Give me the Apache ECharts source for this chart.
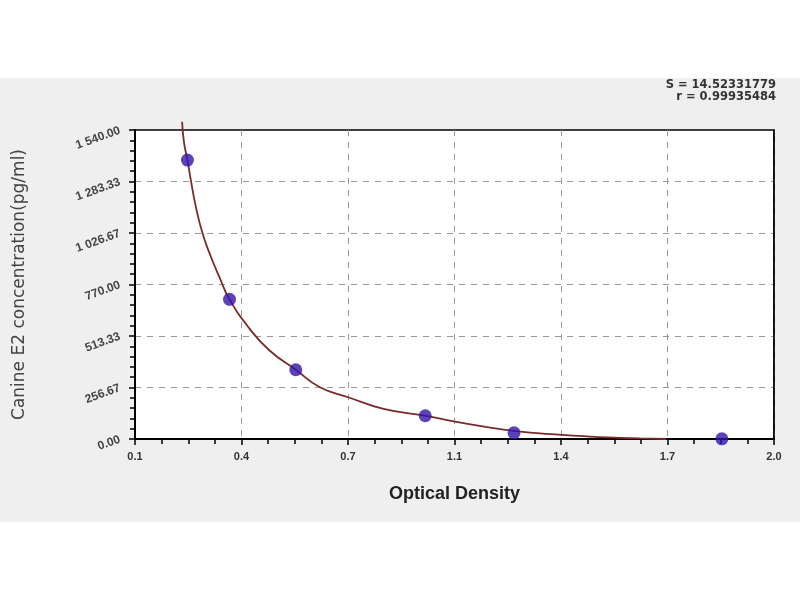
<!DOCTYPE html>
<html>
<head>
<meta charset="utf-8">
<script src="https://cdn.jsdelivr.net/npm/echarts@6/dist/echarts.min.js"></script>
<style>
  html, body { margin: 0; padding: 0; background: #ffffff; }
  #main { position: absolute; left: 0; top: 78px; width: 800px; height: 444px; }
</style>
</head>
<body>
<div id="main"></div>
<script>
// standards (measured points)
const pointOD = [0.256, 0.381, 0.578, 0.963, 1.227, 1.845]
const pointConc = [1390, 696, 345, 116, 31, 1]

// fitted curve
const curveOD = [0.240, 0.246, 0.256, 0.266, 0.281, 0.301, 0.326, 0.351, 0.381, 0.441, 0.500, 0.578, 0.650, 0.734, 0.839, 0.963, 1.048, 1.138, 1.227, 1.337, 1.435, 1.506, 1.600, 1.680]
const curveConc = [1581, 1474, 1390, 1290, 1157, 1024, 907, 807, 696, 549, 441, 345, 258, 208, 150, 116, 88, 62, 40, 24, 14, 8, 3, 0]

const xTickLabels = ['0.1', '0.4', '0.7', '1.1', '1.4', '1.7', '2.0']
const xMin = 0.1, xMax = 2.0
const yMax = 1540

const fitStats = ['S = 14.52331779', 'r = 0.99935484']

function fmtConc(v) {
  let s = v.toFixed(2)
  let [i, d] = s.split('.')
  i = i.replace(/\B(?=(\d{3})+(?!\d))/g, ' ')
  return i + '.' + d
}

const xStep = (xMax - xMin) / 6

var chart = echarts.init(document.getElementById('main'))

let option = {
  backgroundColor: '#efefef',
  animation: false,
  textStyle: { fontFamily: 'Arial, Liberation Sans, sans-serif' },
  grid: {
    left: 135, top: 52, width: 639, height: 309,
    show: true, backgroundColor: '#ffffff', borderColor: '#000', borderWidth: 1.5
  },
  graphic: fitStats.map((t, i) => ({
    type: 'text', right: 24, top: 1 + i * 12,
    style: { text: t, fontSize: 11.5, fontWeight: 'bold', fill: '#333', fontFamily: 'DejaVu Sans' }
  })),
  xAxis: {
    type: 'value', min: xMin, max: xMax, interval: xStep,
    name: 'Optical Density', nameLocation: 'middle', nameGap: 46,
    nameTextStyle: { fontSize: 18, color: '#222', fontWeight: 'bold' },
    axisLine: { lineStyle: { color: '#000', width: 2 } },
    axisTick: { length: 6, lineStyle: { color: '#000', width: 1.5 } },
    minorTick: { show: true, splitNumber: 4, length: 5, lineStyle: { color: '#000', width: 1.5 } },
    axisLabel: {
      margin: 12, fontSize: 11, fontWeight: 'bold', color: '#333',
      formatter: v => xTickLabels[Math.round((v - xMin) / xStep)]
    },
    splitLine: { showMinLine: false, showMaxLine: false, lineStyle: { color: '#999', type: [6, 6], width: 1 } }
  },
  yAxis: [
    {
      type: 'value', min: 0, max: yMax, interval: yMax / 6,
      name: 'Canine E2 concentration(pg/ml)', nameLocation: 'middle', nameGap: 107,
      nameTextStyle: { fontSize: 17, color: '#444', fontFamily: 'DejaVu Sans' },
      axisLine: { show: true, lineStyle: { color: '#000', width: 2 } },
      axisTick: { show: true, length: 6, lineStyle: { color: '#000', width: 1.5 } },
      minorTick: { show: true, splitNumber: 5, length: 5, lineStyle: { color: '#000', width: 1.5 } },
      axisLabel: {
        margin: 15, fontSize: 12, fontWeight: 'bold', color: '#444', rotate: 20,
        formatter: v => fmtConc(v)
      },
      splitLine: { showMinLine: false, showMaxLine: false, lineStyle: { color: '#999', type: [6, 6], width: 1 } }
    },
    {
      // right frame edge only
      type: 'value', position: 'right', min: 0, max: yMax,
      axisLine: { show: true, lineStyle: { color: '#000', width: 1.5 } },
      axisTick: { show: false }, axisLabel: { show: false }, splitLine: { show: false }
    }
  ],
  series: [
    {
      type: 'line', smooth: true, clip: false, showSymbol: false,
      data: curveOD.map((x, i) => [x, curveConc[i]]),
      lineStyle: { color: '#7a2a2a', width: 1.8 },
      z: 2
    },
    {
      type: 'scatter', symbol: 'circle', symbolSize: 13,
      data: pointOD.map((x, i) => [x, pointConc[i]]),
      itemStyle: { color: '#3414a8' },
      z: 3
    }
  ]
}

chart.setOption(option)
</script>
</body>
</html>
